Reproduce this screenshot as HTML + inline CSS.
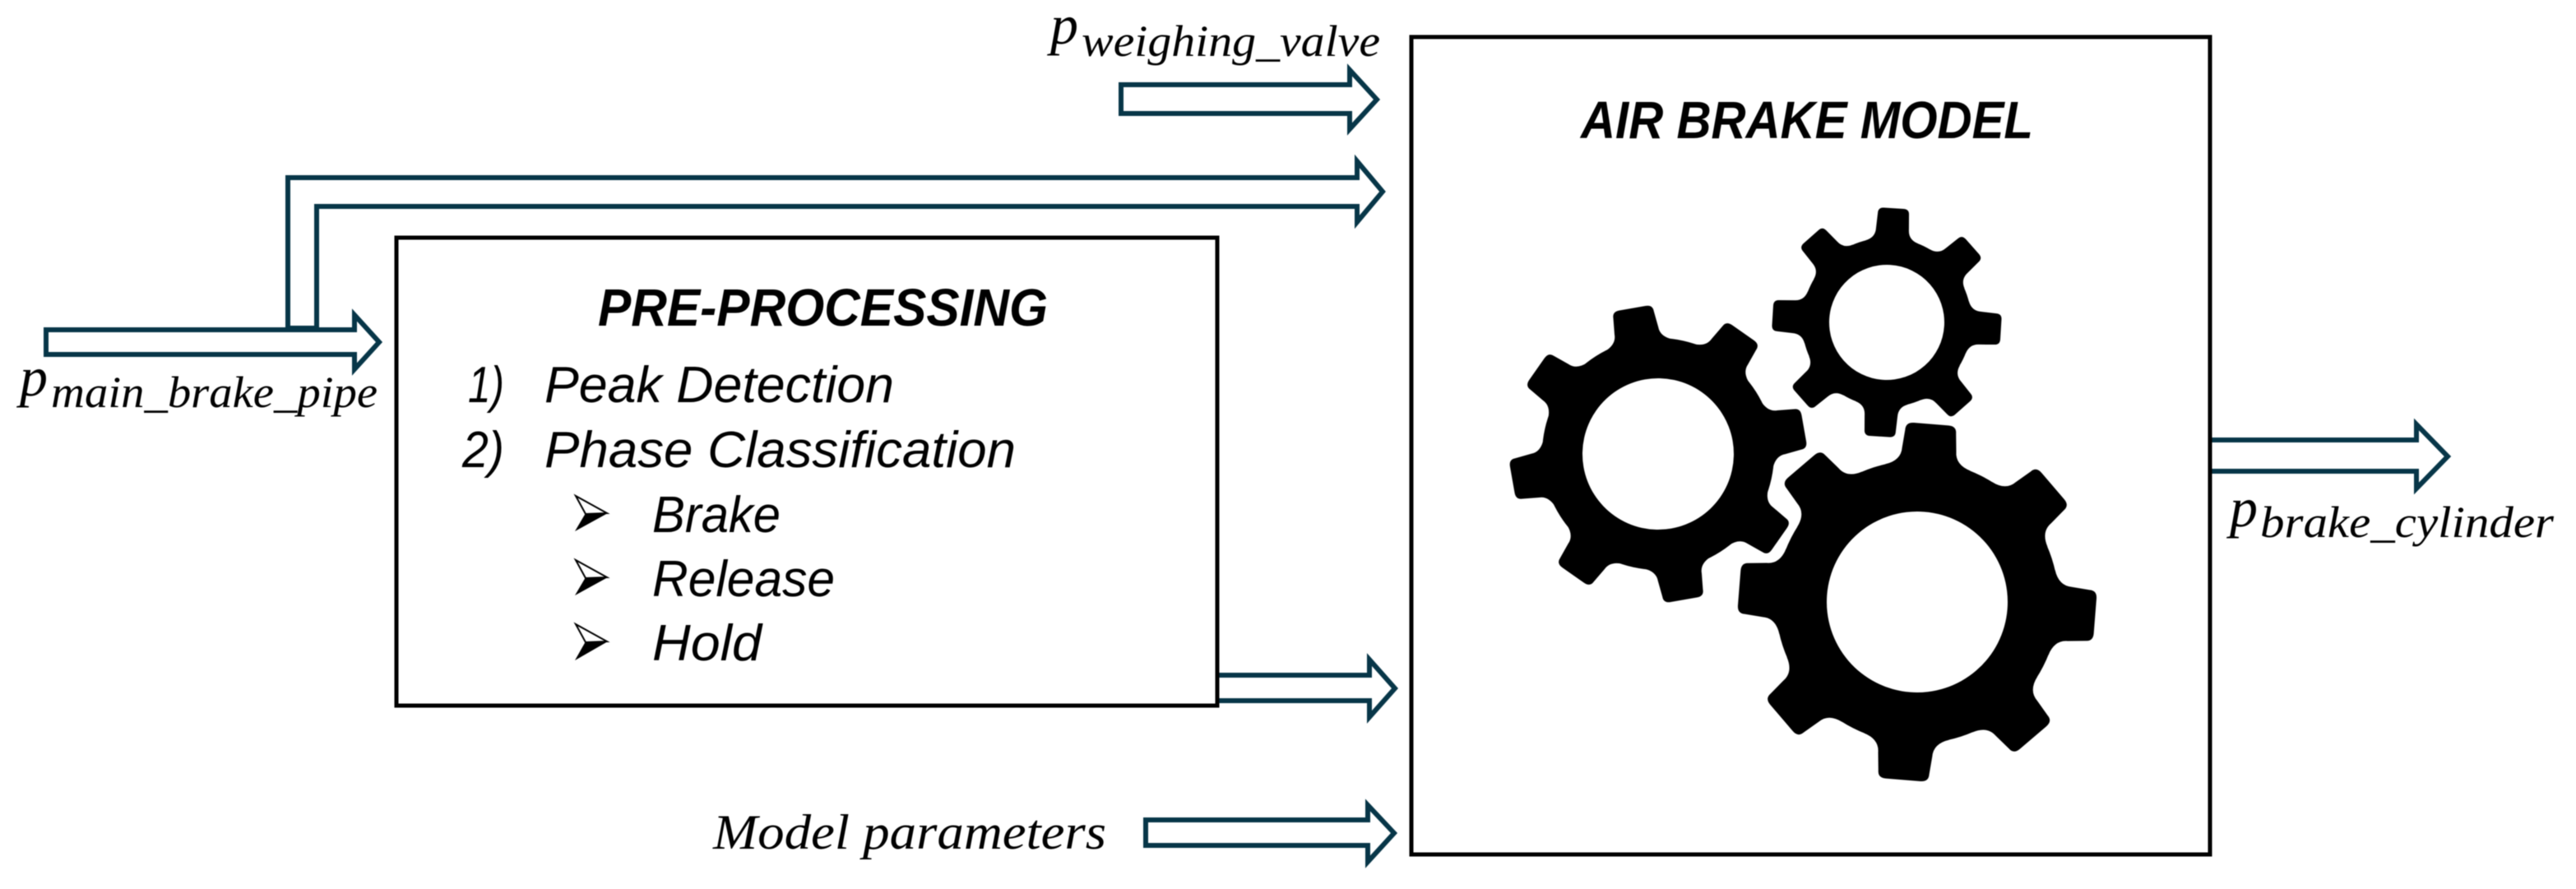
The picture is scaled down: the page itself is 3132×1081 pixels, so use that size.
<!DOCTYPE html>
<html><head><meta charset="utf-8"><style>
html,body{margin:0;padding:0;background:#fff}
svg{display:block;filter:blur(0.6px)}
.s{font-family:"Liberation Sans",sans-serif;font-style:italic;fill:#000}
.m{font-family:"Liberation Serif",serif;font-style:italic;fill:#000}
</style></head><body>
<svg width="3132" height="1081" viewBox="0 0 3132 1081" xmlns="http://www.w3.org/2000/svg">
<rect width="3132" height="1081" fill="#fff"/>
<defs>
<path id="t1" d="M-42,-134 Q-27,-140 -27,-152 L-25,-172 Q-25,-180 -16,-180 L16,-180 Q25,-180 25,-172 L27,-152 Q27,-140 42,-134 Z"/>
<path id="t2" d="M-32,-98 Q-20,-102 -20,-114 L-19,-132 Q-19,-139 -12,-139 L12,-139 Q19,-139 19,-132 L20,-114 Q20,-102 32,-98 Z"/>
<path id="t3" d="M-52,-164 Q-33,-170 -33,-186 L-31,-208 Q-31,-217 -21,-217 L21,-217 Q31,-217 31,-208 L33,-186 Q33,-170 52,-164 Z"/>
</defs>

<g fill="#fff" stroke="#073648" stroke-width="6" stroke-miterlimit="10">
<polygon points="350,399 350,216 1650,216 1650,196 1681,233 1650,270 1650,251 385,251 385,399"/>
<polygon points="56,401 431,401 431,383 461,416 431,449 431,431 56,431"/>
<polygon points="1363,103 1641,103 1641,85 1674,121 1641,157 1641,138 1363,138"/>
<polygon points="1470,821 1665,821 1665,802 1696,837 1665,872 1665,852 1470,852"/>
<polygon points="1393,997 1663,997 1663,979 1695,1013 1663,1048 1663,1028 1393,1028"/>
<polygon points="2680,535 2938,535 2938,516 2976,555 2938,594 2938,573 2680,573"/>
</g>

<rect x="482" y="289" width="998" height="569" fill="#fff" stroke="#000" stroke-width="5"/>
<rect x="1716" y="45" width="971" height="994" fill="#fff" stroke="#000" stroke-width="5"/>

<!-- Gears -->
<g transform="translate(2016,552) rotate(-10)">
<circle r="141" fill="#000"/>
<use href="#t1"/><use href="#t1" transform="rotate(45)"/><use href="#t1" transform="rotate(90)"/><use href="#t1" transform="rotate(135)"/>
<use href="#t1" transform="rotate(180)"/><use href="#t1" transform="rotate(225)"/><use href="#t1" transform="rotate(270)"/><use href="#t1" transform="rotate(315)"/>
<circle r="92" fill="#fff"/>
</g>
<g transform="translate(2294,392) rotate(3.5)">
<circle r="103" fill="#000"/>
<use href="#t2"/><use href="#t2" transform="rotate(45)"/><use href="#t2" transform="rotate(90)"/><use href="#t2" transform="rotate(135)"/>
<use href="#t2" transform="rotate(180)"/><use href="#t2" transform="rotate(225)"/><use href="#t2" transform="rotate(270)"/><use href="#t2" transform="rotate(315)"/>
<circle r="70" fill="#fff"/>
</g>
<g transform="translate(2331,732) rotate(4.5)">
<circle r="172" fill="#000"/>
<use href="#t3"/><use href="#t3" transform="rotate(45)"/><use href="#t3" transform="rotate(90)"/><use href="#t3" transform="rotate(135)"/>
<use href="#t3" transform="rotate(180)"/><use href="#t3" transform="rotate(225)"/><use href="#t3" transform="rotate(270)"/><use href="#t3" transform="rotate(315)"/>
<circle r="110" fill="#fff"/>
</g>

<text class="s" x="1922" y="168" font-size="64" font-weight="700" textLength="550" lengthAdjust="spacingAndGlyphs">AIR BRAKE MODEL</text>
<text class="s" x="727" y="396" font-size="64" font-weight="700" textLength="547" lengthAdjust="spacingAndGlyphs">PRE-PROCESSING</text>

<text class="s" x="569" y="489" font-size="62" textLength="44" lengthAdjust="spacingAndGlyphs">1)</text>
<text class="s" x="662" y="489" font-size="62" textLength="425" lengthAdjust="spacingAndGlyphs">Peak Detection</text>
<text class="s" x="562" y="568" font-size="62" textLength="51" lengthAdjust="spacingAndGlyphs">2)</text>
<text class="s" x="662" y="568" font-size="62" textLength="573" lengthAdjust="spacingAndGlyphs">Phase Classification</text>
<text class="s" x="793" y="647" font-size="62" textLength="156" lengthAdjust="spacingAndGlyphs">Brake</text>
<text class="s" x="793" y="725" font-size="62" textLength="222" lengthAdjust="spacingAndGlyphs">Release</text>
<text class="s" x="793" y="803" font-size="62" textLength="133" lengthAdjust="spacingAndGlyphs">Hold</text>

<!-- Bullets -->
<g stroke="#000" stroke-width="2" fill="#fff" stroke-linejoin="miter">
<polygon points="700,603 738,624 712,625"/>
<polygon points="700,681 738,702 712,703"/>
<polygon points="700,759 738,780 712,781"/>
</g>
<g fill="#000">
<polygon points="712,624 739,624 699,646"/>
<polygon points="712,702 739,702 699,724"/>
<polygon points="712,780 739,780 699,803"/>
</g>

<text class="m" x="867" y="1032" font-size="60" textLength="478" lengthAdjust="spacingAndGlyphs">Model parameters</text>

<text class="m" x="24" y="481" font-size="68">p</text>
<text class="m" x="62" y="495" font-size="54" textLength="397" lengthAdjust="spacingAndGlyphs">main_brake_pipe</text>
<text class="m" x="1277" y="53" font-size="68">p</text>
<text class="m" x="1315" y="68" font-size="54" textLength="363" lengthAdjust="spacingAndGlyphs">weighing_valve</text>
<text class="m" x="2711" y="640" font-size="68">p</text>
<text class="m" x="2748" y="653" font-size="54" textLength="357" lengthAdjust="spacingAndGlyphs">brake_cylinder</text>
</svg>
</body></html>
